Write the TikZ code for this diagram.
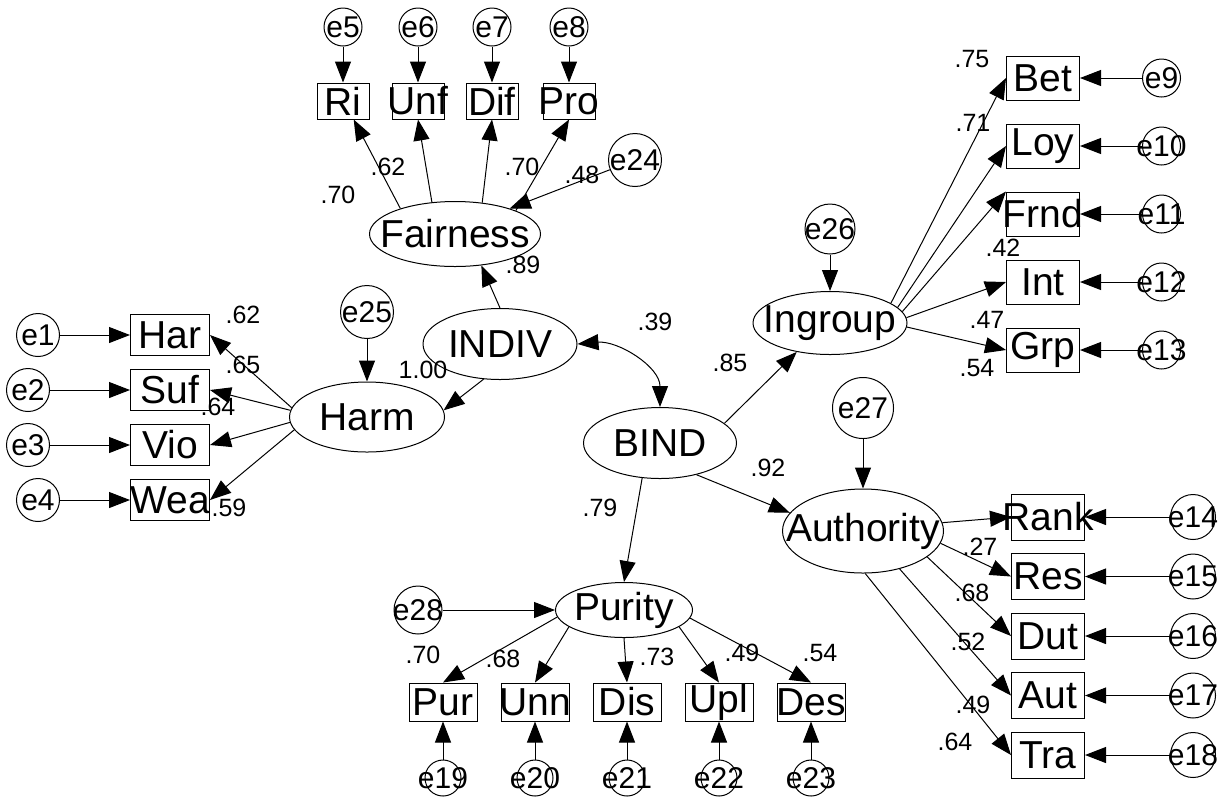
\documentclass[tikz,border=0pt]{standalone}
\usepackage{fontspec}
\setmainfont{Liberation Sans}
\usetikzlibrary{shapes.geometric, arrows.meta, positioning}

% labels are centred without widening their shapes
\newcommand{\vname}[1]{\makebox[0pt]{#1}}

\tikzset{
  >={Triangle[length=10.5pt, width=8pt]},
  latent/.style 2 args={ellipse, draw, line width=0.5pt, inner sep=0pt,
    minimum width=#1, minimum height=#2, font=\fontsize{19.5}{20}\selectfont},
  obs/.style 2 args={rectangle, draw, line width=0.5pt, inner sep=0pt,
    minimum width=#1, minimum height=#2, font=\fontsize{19.5}{20}\selectfont},
  err/.style={circle, draw, line width=0.5pt, inner sep=0pt,
    minimum size=#1, font=\fontsize{15}{16}\selectfont},
  est/.style={inner sep=0pt, font=\fontsize{12.5}{13}\selectfont},
  arr/.style={->, line width=0.5pt},
  cov/.style={<->, line width=0.5pt},
}

\begin{document}
\begin{tikzpicture}[x=0.5pt, y=-0.5pt]
  \useasboundingbox (0,0) rectangle (1229,799);

  % latent factors
  \node[latent={85.5pt}{32.5pt}] (fair) at (455,234) {\vname{Fairness}};
  \node[latent={77.5pt}{35pt}] (harm) at (367,417) {\vname{Harm}};
  \node[latent={77pt}{35.5pt}] (indiv) at (500,344) {\vname{INDIV}};
  \node[latent={76.5pt}{35.5pt}] (bind) at (660,443) {\vname{BIND}};
  \node[latent={77pt}{31.5pt}] (ingroup) at (830,323) {\vname{Ingroup}};
  \node[latent={80.5pt}{42pt}] (auth) at (863,531) {\vname{Authority}};
  \node[latent={68.5pt}{27.5pt}] (purity) at (624,610) {\vname{Purity}};

  % disturbances
  \node[err=26.5pt] (e24) at (635,160) {\vname{e24}};
  \node[err=26.5pt] (e25) at (367,312) {\vname{e25}};
  \node[err=25pt] (e26) at (830,229) {\vname{e26}};
  \node[err=30.5pt] (e27) at (863,408) {\vname{e27}};
  \node[err=24pt] (e28) at (418,610) {\vname{e28}};

  % harm items
  \node[obs={39.5pt}{20.5pt}] (har) at (170,335) {\vname{Har}};
  \node[obs={39.5pt}{20.5pt}, below=6.5pt of har] (suf) {\vname{Suf}};
  \node[obs={39.5pt}{20.5pt}, below=6.5pt of suf] (vio) {\vname{Vio}};
  \node[obs={39.5pt}{20.5pt}, below=6.5pt of vio] (wea) {\vname{Wea}};
  \node[err=21.5pt] (e1) at (38,0 |- har) {\vname{e1}};
  \node[err=21.5pt] (e2) at (28,0 |- suf) {\vname{e2}};
  \node[err=21.5pt] (e3) at (28,0 |- vio) {\vname{e3}};
  \node[err=21.5pt] (e4) at (38,0 |- wea) {\vname{e4}};

  % fairness items
  \node[obs={26pt}{18pt}] (ri) at (343,101) {\vname{Ri}};
  \node[obs={26pt}{18pt}] (unf) at (418,101) {\vname{Unf}};
  \node[obs={26pt}{18pt}] (dif) at (492,101) {\vname{Dif}};
  \node[obs={26pt}{18pt}] (pro) at (569,101) {\vname{Pro}};
  \node[err=19pt, above=18pt of ri] (e5) {\vname{e5}};
  \node[err=19pt, above=18pt of unf] (e6) {\vname{e6}};
  \node[err=19pt, above=18pt of dif] (e7) {\vname{e7}};
  \node[err=19pt, above=18pt of pro] (e8) {\vname{e8}};

  % ingroup items
  \node[obs={36.5pt}{22pt}] (bet) at (1043,78) {\vname{Bet}};
  \node[obs={36.5pt}{22pt}, below=11.5pt of bet] (loy) {\vname{Loy}};
  \node[obs={36.5pt}{22pt}, below=11.5pt of loy] (frnd) {\vname{Frnd}};
  \node[obs={36.5pt}{22pt}, below=11.5pt of frnd] (int) {\vname{Int}};
  \node[obs={36.5pt}{22pt}, below=11.5pt of int] (grp) {\vname{Grp}};
  \node[err=19pt, right=31pt of bet] (e9) {\vname{e9}};
  \node[err=19pt, right=31pt of loy] (e10) {\vname{e10}};
  \node[err=19pt, right=31pt of frnd] (e11) {\vname{e11}};
  \node[err=19pt, right=31pt of int] (e12) {\vname{e12}};
  \node[err=19pt, right=31pt of grp] (e13) {\vname{e13}};

  % authority items
  \node[obs={36.5pt}{23pt}] (rank) at (1048,517) {\vname{Rank}};
  \node[obs={36.5pt}{23pt}, below=6.25pt of rank] (res) {\vname{Res}};
  \node[obs={36.5pt}{23pt}, below=6.25pt of res] (dut) {\vname{Dut}};
  \node[obs={36.5pt}{23pt}, below=6.25pt of dut] (aut) {\vname{Aut}};
  \node[obs={36.5pt}{23pt}, below=6.25pt of aut] (tra) {\vname{Tra}};
  \node[err=22.5pt, right=42.5pt of rank] (e14) {\vname{e14}};
  \node[err=22.5pt, right=42.5pt of res] (e15) {\vname{e15}};
  \node[err=22.5pt, right=42.5pt of dut] (e16) {\vname{e16}};
  \node[err=22.5pt, right=42.5pt of aut] (e17) {\vname{e17}};
  \node[err=22.5pt, right=42.5pt of tra] (e18) {\vname{e18}};

  % purity items
  \node[obs={34pt}{19pt}] (pur) at (443,702) {\vname{Pur}};
  \node[obs={34pt}{19pt}, right=11.5pt of pur] (unn) {\vname{Unn}};
  \node[obs={34pt}{19pt}, right=11.5pt of unn] (dis) {\vname{Dis}};
  \node[obs={34pt}{19pt}, right=11.5pt of dis] (upl) {\vname{Upl}};
  \node[obs={34pt}{19pt}, right=11.5pt of upl] (des) {\vname{Des}};
  \node[err=18pt, below=19pt of pur] (e19) {\vname{e19}};
  \node[err=18pt, below=19pt of unn] (e20) {\vname{e20}};
  \node[err=18pt, below=19pt of dis] (e21) {\vname{e21}};
  \node[err=18pt, below=19pt of upl] (e22) {\vname{e22}};
  \node[err=18pt, below=19pt of des] (e23) {\vname{e23}};

  % structural paths
  \draw[arr] (indiv.north) -- (fair.-50);
  \draw[arr] (indiv.-115) -- (harm.5);
  \draw[cov] (indiv.east) to[out=5, in=90] (bind.north);
  \draw[arr] (bind.17) -- (ingroup.-139);
  \draw[arr] (bind.-41) -- (auth.166);
  \draw[arr] (bind.-117) -- (purity.north);
  \draw[arr] (e24) -- (fair.25);
  \draw[arr] (e25) -- (harm);
  \draw[arr] (e26) -- (ingroup);
  \draw[arr] (e27) -- (auth);
  \draw[arr] (e28) -- (purity);

  % loadings
  \draw[arr] (harm.173) -- (har.east);
  \draw[arr] (harm.175) -- (suf.east);
  \draw[arr] (harm.184) -- (vio.east);
  \draw[arr] (harm.190) -- (wea.east);
  \draw[arr] (fair.155) -- (ri.-60);
  \draw[arr] (fair.126) -- (unf.south);
  \draw[arr] (fair.49) -- (dif.south);
  \draw[arr] (fair.21) -- (pro.south);
  \draw[arr] (ingroup.18) -- (bet.west);
  \draw[arr] (ingroup.13) -- (loy.west);
  \draw[arr] (ingroup.9) -- (frnd.north west);
  \draw[arr] (ingroup.4) -- (int.west);
  \draw[arr] (ingroup.-3) -- (grp.west);
  \draw[arr] (auth.6) -- (rank.west);
  \draw[arr] (auth.-9) -- (res.west);
  \draw[arr] (auth.-22) -- (dut.west);
  \draw[arr] (auth.-46) -- (aut.west);
  \draw[arr] (auth.-87) -- (tra.west);
  \draw[arr] (purity.-174) -- (pur.north);
  \draw[arr] (purity.-163) -- (unn.north);
  \draw[arr] (purity.south) -- (dis.north);
  \draw[arr] (purity.-17) -- (upl.north);
  \draw[arr] (purity.-7) -- (des.north);

  % item errors
  \draw[arr] (e1) -- (har);
  \draw[arr] (e2) -- (suf);
  \draw[arr] (e3) -- (vio);
  \draw[arr] (e4) -- (wea);
  \draw[arr] (e5) -- (ri);
  \draw[arr] (e6) -- (unf);
  \draw[arr] (e7) -- (dif);
  \draw[arr] (e8) -- (pro);
  \draw[arr] (e9) -- (bet);
  \draw[arr] (e10) -- (loy);
  \draw[arr] (e11) -- (frnd);
  \draw[arr] (e12) -- (int);
  \draw[arr] (e13) -- (grp);
  \draw[arr] (e14) -- (rank);
  \draw[arr] (e15) -- (res);
  \draw[arr] (e16) -- (dut);
  \draw[arr] (e17) -- (aut);
  \draw[arr] (e18) -- (tra);
  \draw[arr] (e19) -- (pur);
  \draw[arr] (e20) -- (unn);
  \draw[arr] (e21) -- (dis);
  \draw[arr] (e22) -- (upl);
  \draw[arr] (e23) -- (des);

  % estimates
  \node[est] (sRi) at (338,195) {.70};
  \node[est] (sUnf) at (388,167) {.62};
  \node[est] (sPro) at (522,167) {.70};
  \node[est] (sFair) at (582,175) {.48};
  \node[est] (bFair) at (523,265) {.89};
  \node[est] (sHar) at (243,315) {.62};
  \node[est] (sSuf) at (243,365) {.65};
  \node[est] (sVio) at (218,407) {.64};
  \node[est] (sWea) at (229,508) {.59};
  \node[est] (bHarm) at (423,370) {1.00};
  \node[est] (rBind) at (655,322) {.39};
  \node[est] (bIng) at (730,363) {.85};
  \node[est] (bAuth) at (768,468) {.92};
  \node[est] (bPur) at (600,508) {.79};
  \node[est] (sBet) at (972,59) {.75};
  \node[est] (sLoy) at (973,123) {.71};
  \node[est] (sInt) at (1003,248) {.42};
  \node[est] (sGrp) at (987,320) {.47};
  \node[est] (sIng) at (977,368) {.54};
  \node[est] (sRes) at (980,547) {.27};
  \node[est] (sDut) at (972,593) {.68};
  \node[est] (sAut) at (968,642) {.52};
  \node[est] (sTra) at (973,705) {.49};
  \node[est] (sAuth) at (955,742) {.64};
  \node[est] (sPur) at (423,655) {.70};
  \node[est] (sUnn) at (503,659) {.68};
  \node[est] (sDis) at (657,657) {.73};
  \node[est] (sUpl) at (742,653) {.49};
  \node[est] (sDes) at (820,653) {.54};
\end{tikzpicture}
\end{document}
